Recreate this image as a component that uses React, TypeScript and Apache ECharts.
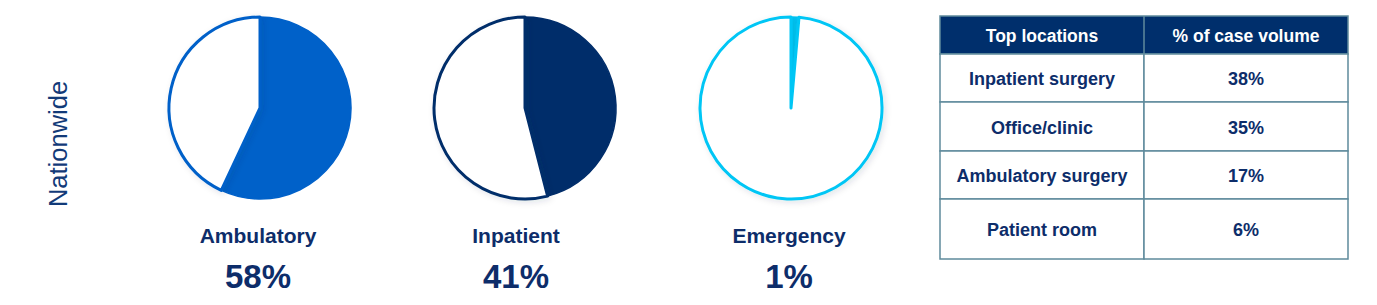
import React, { useEffect, useRef } from "react";
import * as echarts from "echarts";

const pieLabels = ["Ambulatory", "Inpatient", "Emergency"];
// percentages printed under each pie
const pieValues = [58, 41, 1];
// share drawn by each pie slice
const pieSliceValues = [57, 46, 1.4];
const sideLabel = "Nationwide";

const tableHeaders = ["Top locations", "% of case volume"];
const locations = ["Inpatient surgery", "Office/clinic", "Ambulatory surgery", "Patient room"];
const caseVolume = [38, 35, 17, 6];

const PIE_COLORS = ["#0061c9", "#002d6a", "#00c6f5"];
const NAVY = "#0d2d6a";
const FONT = "'Liberation Sans', Arial, sans-serif";

export default function App() {
  const ref = useRef<HTMLDivElement>(null);

  useEffect(() => {
    if (!ref.current) return;
    const chart = echarts.init(ref.current, undefined, { renderer: "svg" });

    const pieCentersX = [260, 525, 791];
    const labelCentersX = [258, 516, 789];
    const pieCy = 108;
    const radius = 91;

    const series: any[] = pieSliceValues.map((v, i) => ({
      type: "pie",
      center: [pieCentersX[i], pieCy],
      radius: [0, radius],
      startAngle: 90,
      clockwise: true,
      silent: true,
      label: { show: false },
      labelLine: { show: false },
      emphasis: { disabled: true },
      data: [
        {
          name: pieLabels[i],
          value: v,
          itemStyle: {
            color: PIE_COLORS[i],
            borderColor: PIE_COLORS[i],
            borderWidth: 1.5,
          },
        },
        {
          name: "rest",
          value: 100 - v,
          itemStyle: {
            color: "#ffffff",
            borderColor: PIE_COLORS[i],
            borderWidth: 3,
            shadowBlur: 6,
            shadowColor: "rgba(0,40,80,0.12)",
            shadowOffsetX: 2,
            shadowOffsetY: 2,
          },
        },
      ],
    }));

    const graphics: any[] = [];

    graphics.push({
      type: "text",
      x: 58,
      y: 144,
      rotation: Math.PI / 2,
      style: {
        text: sideLabel,
        font: `25.5px ${FONT}`,
        fill: "#123a78",
        textAlign: "center",
        textVerticalAlign: "middle",
      },
    });

    pieLabels.forEach((lab, i) => {
      graphics.push({
        type: "text",
        x: labelCentersX[i],
        y: 235,
        style: {
          text: lab,
          font: `bold 21px ${FONT}`,
          fill: NAVY,
          textAlign: "center",
          textVerticalAlign: "middle",
        },
      });
      graphics.push({
        type: "text",
        x: labelCentersX[i],
        y: 276,
        style: {
          text: `${pieValues[i]}%`,
          font: `bold 33px ${FONT}`,
          fill: NAVY,
          textAlign: "center",
          textVerticalAlign: "middle",
        },
      });
    });

    // table
    const tx0 = 940;
    const tx1 = 1144;
    const tx2 = 1348;
    const rowEdges = [16, 54, 102, 151, 199, 259];
    const border = "#5f8b9c";

    graphics.push({
      type: "rect",
      shape: { x: tx0, y: rowEdges[0], width: tx2 - tx0, height: rowEdges[1] - rowEdges[0] },
      style: { fill: "#002f6c", stroke: border, lineWidth: 1.5 },
    });
    tableHeaders.forEach((h, c) => {
      graphics.push({
        type: "text",
        x: c === 0 ? (tx0 + tx1) / 2 : (tx1 + tx2) / 2,
        y: (rowEdges[0] + rowEdges[1]) / 2 + 1,
        style: {
          text: h,
          font: `bold 17.5px ${FONT}`,
          fill: "#ffffff",
          textAlign: "center",
          textVerticalAlign: "middle",
        },
      });
    });
    locations.forEach((loc, r) => {
      const y0 = rowEdges[r + 1];
      const y1 = rowEdges[r + 2];
      [tx0, tx1].forEach((x, c) => {
        graphics.push({
          type: "rect",
          shape: { x, y: y0, width: c === 0 ? tx1 - tx0 : tx2 - tx1, height: y1 - y0 },
          style: { fill: "#ffffff", stroke: border, lineWidth: 1.5 },
        });
      });
      graphics.push({
        type: "text",
        x: (tx0 + tx1) / 2,
        y: (y0 + y1) / 2 + 1,
        style: {
          text: loc,
          font: `bold 18px ${FONT}`,
          fill: NAVY,
          textAlign: "center",
          textVerticalAlign: "middle",
        },
      });
      graphics.push({
        type: "text",
        x: (tx1 + tx2) / 2,
        y: (y0 + y1) / 2 + 1,
        style: {
          text: `${caseVolume[r]}%`,
          font: `bold 18px ${FONT}`,
          fill: NAVY,
          textAlign: "center",
          textVerticalAlign: "middle",
        },
      });
    });
    graphics.push({
      type: "line",
      shape: { x1: tx1, y1: rowEdges[0], x2: tx1, y2: rowEdges[1] },
      style: { stroke: border, lineWidth: 1.5 },
    });

    chart.setOption({
      animation: false,
      backgroundColor: "#ffffff",
      series,
      graphic: { elements: graphics },
    });

    return () => chart.dispose();
  }, []);

  return (
    <div
      ref={ref}
      style={{ position: "absolute", left: 0, top: 0, width: 1377, height: 305 }}
    />
  );
}
